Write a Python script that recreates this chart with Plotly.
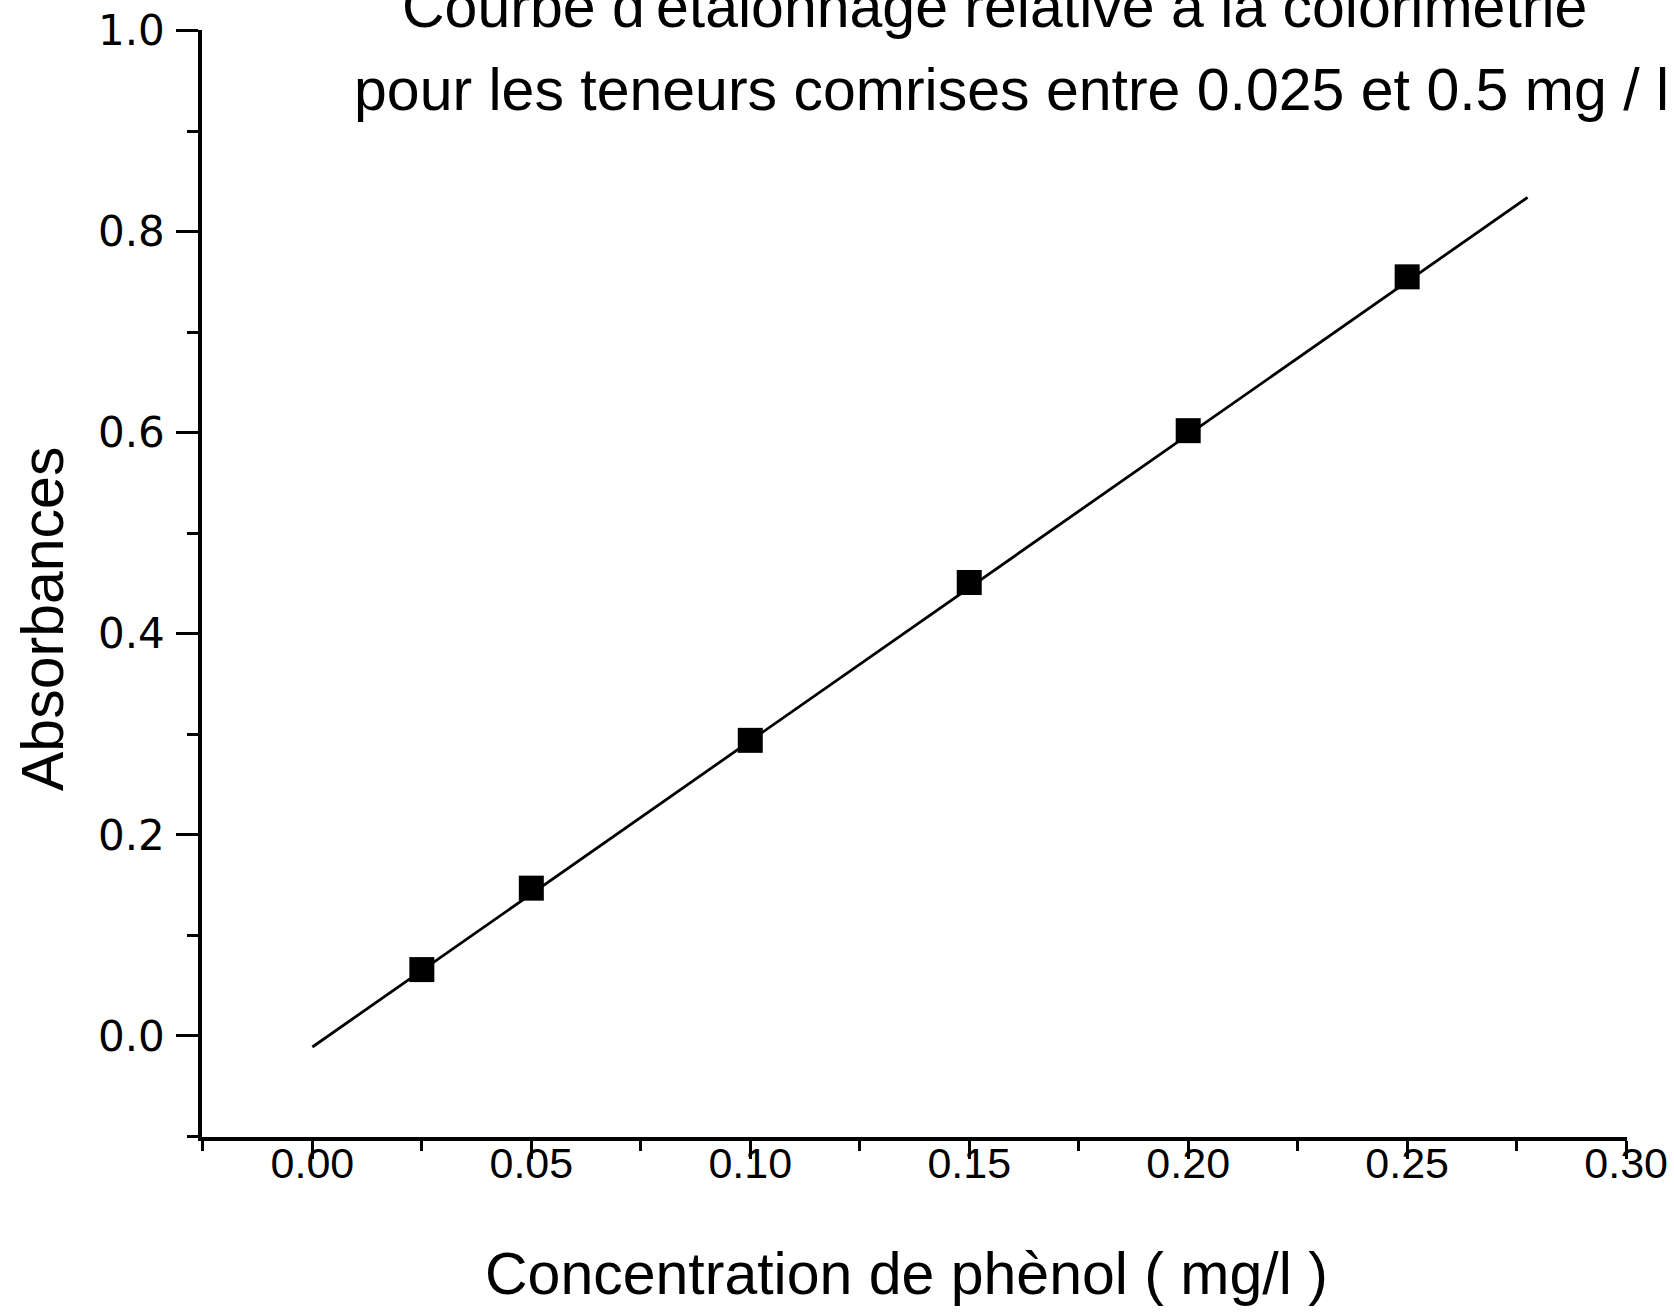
import plotly.graph_objects as go

# Data
concentration = [0.025, 0.05, 0.10, 0.15, 0.20, 0.25]
absorbance = [0.066, 0.147, 0.294, 0.451, 0.602, 0.755]

# Calibration (fit) line endpoints
fit_x = [0.0, 0.2775]
fit_y = [-0.011, 0.834]

title_line1 = "Courbe d'étalonnage relative à la colorimétrie"
title_line2 = "pour les teneurs comrises entre 0.025 et 0.5 mg / l"
x_title = "Concentration de phènol ( mg/l )"
y_title = "Absorbances"

FONT = "Arial, 'Liberation Sans', sans-serif"
YFONT = "'DejaVu Sans', Verdana, sans-serif"

fig = go.Figure()
fig.add_trace(go.Scatter(x=fit_x, y=fit_y, mode="lines",
                         line=dict(color="black", width=2.8), showlegend=False))
fig.add_trace(go.Scatter(x=concentration, y=absorbance, mode="markers",
                         marker=dict(symbol="square", size=25, color="black"),
                         showlegend=False))

axis_common = dict(showline=True, linecolor="black", linewidth=3.5, ticks="outside",
                   tickwidth=3, tickcolor="black", showgrid=False, zeroline=False,
                   ticklabeloverflow="allow")

fig.update_xaxes(range=[-0.0252, 0.3002], tick0=0, dtick=0.05, tickformat=".2f",
                 ticklen=18, ticklabelstandoff=-32,
                 tickfont=dict(family=FONT, size=43, color="black"),
                 minor=dict(dtick=0.025, tick0=0, ticks="outside", ticklen=10,
                            tickwidth=3, tickcolor="black", showgrid=False),
                 **axis_common)
fig.update_yaxes(range=[-0.1005, 1.0005], tick0=0, dtick=0.2, tickformat=".1f",
                 ticklen=22, ticklabelstandoff=3,
                 tickfont=dict(family=YFONT, size=42, color="black"),
                 minor=dict(dtick=0.1, tick0=0, ticks="outside", ticklen=11,
                            tickwidth=3, tickcolor="black", showgrid=False),
                 **axis_common)

ann_font = dict(family=FONT, size=59, color="black")
fig.add_annotation(text=title_line1, xref="paper", yref="paper", x=0, y=1,
                   xanchor="center", yanchor="middle", xshift=994 - 202, yshift=23,
                   showarrow=False, font=ann_font)
fig.add_annotation(text=title_line2, xref="paper", yref="paper", x=0, y=1,
                   xanchor="left", yanchor="middle", xshift=352 - 202, yshift=-60,
                   showarrow=False, font=ann_font)
fig.add_annotation(text=x_title, xref="paper", yref="paper", x=0, y=0,
                   xanchor="center", yanchor="middle", xshift=906 - 202, yshift=-137,
                   showarrow=False, font=ann_font)
fig.add_annotation(text=y_title, xref="paper", yref="paper", x=0, y=0,
                   xanchor="center", yanchor="middle", xshift=43 - 202, yshift=1137 - 619,
                   textangle=-90, showarrow=False, font=ann_font)

fig.update_layout(width=1674, height=1313,
                  margin=dict(l=202, r=47, t=30, b=176, autoexpand=False),
                  paper_bgcolor="white", plot_bgcolor="white")

# Remove the default page margin so the figure fills the window exactly.
fig.write_html("out.html", config={"displayModeBar": False},
               post_script="document.body.style.margin='0';document.body.style.overflow='hidden';")
